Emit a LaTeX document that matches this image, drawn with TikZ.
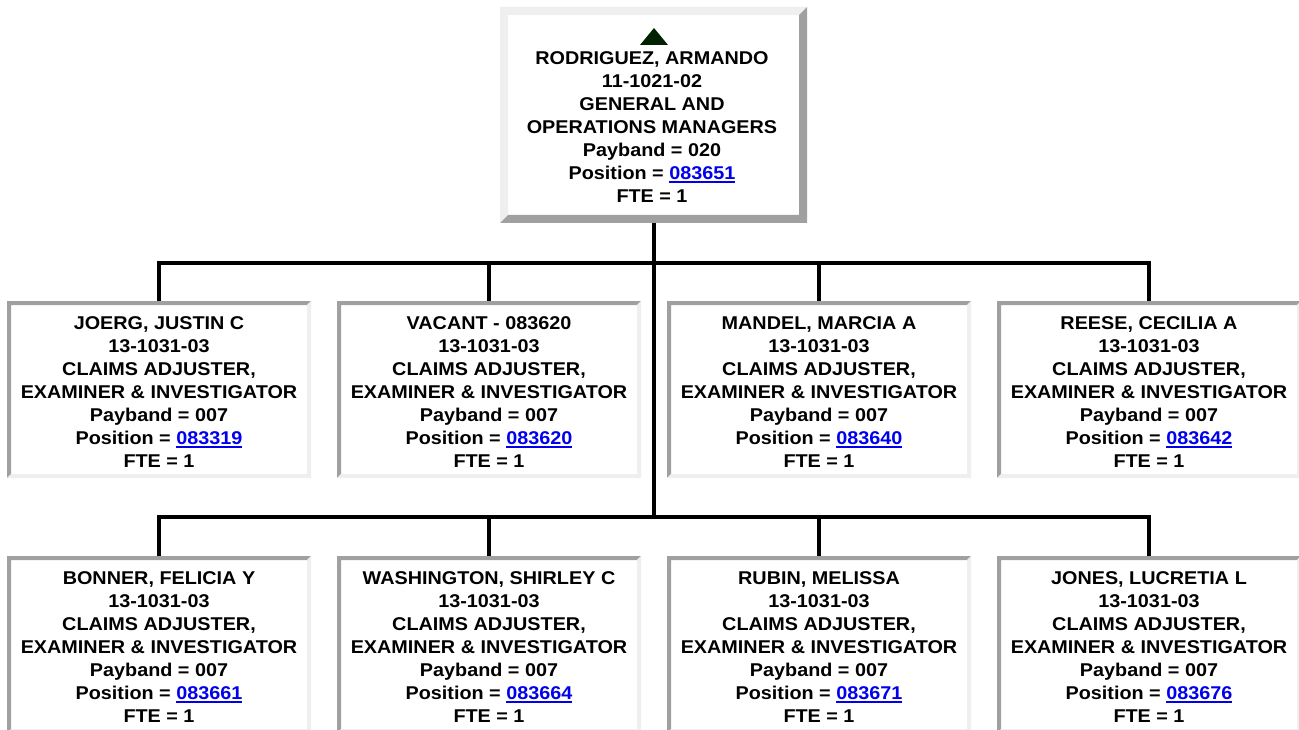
\documentclass[tikz,border=0pt]{standalone}
\usepackage{fontspec}
\setmainfont{Liberation Sans}[FakeStretch=1.07]
\usepackage{xcolor}
\definecolor{bdark}{RGB}{160,160,160}
\definecolor{blight}{RGB}{239,239,239}
\definecolor{linkblue}{RGB}{0,0,238}
\definecolor{tri}{RGB}{0,34,0}
\newcommand\lnk[1]{{\color{linkblue}\setbox0\hbox{#1}\rlap{\rule[-2.6pt]{\wd0}{1.6pt}}\box0}}
\tikzset{
  pp/.style={path picture bounding box},
  insetbox/.style={fill=white, inner sep=0pt, minimum width=304pt, minimum height=177pt,
    path picture={
      \fill[bdark] (path picture bounding box.north west) -- (path picture bounding box.north east)
        -- ([shift={(-4pt,-4pt)}]path picture bounding box.north east)
        -- ([shift={(4pt,-4pt)}]path picture bounding box.north west)
        -- ([shift={(4pt,4pt)}]path picture bounding box.south west)
        -- (path picture bounding box.south west) -- cycle;
      \fill[blight] (path picture bounding box.north east) -- (path picture bounding box.south east)
        -- (path picture bounding box.south west)
        -- ([shift={(4pt,4pt)}]path picture bounding box.south west)
        -- ([shift={(-4pt,4pt)}]path picture bounding box.south east)
        -- ([shift={(-4pt,-4pt)}]path picture bounding box.north east) -- cycle;
    }},
  outsetbox/.style={fill=white, inner sep=0pt, minimum width=307pt, minimum height=216pt,
    path picture={
      \fill[blight] (path picture bounding box.north west) -- (path picture bounding box.north east)
        -- ([shift={(-8pt,-8pt)}]path picture bounding box.north east)
        -- ([shift={(8pt,-8pt)}]path picture bounding box.north west)
        -- ([shift={(8pt,8pt)}]path picture bounding box.south west)
        -- (path picture bounding box.south west) -- cycle;
      \fill[bdark] (path picture bounding box.north east) -- (path picture bounding box.south east)
        -- (path picture bounding box.south west)
        -- ([shift={(8pt,8pt)}]path picture bounding box.south west)
        -- ([shift={(-8pt,8pt)}]path picture bounding box.south east)
        -- ([shift={(-8pt,-8pt)}]path picture bounding box.north east) -- cycle;
    }},
  txt/.style={inner sep=0pt, align=center, font=\bfseries\fontsize{18.5}{23}\selectfont},
  conn/.style={line width=4pt, black}
}
\begin{document}
\begin{tikzpicture}[x=1pt,y=-1pt]
\useasboundingbox (0,0) rectangle (1299,730);
\fill[white] (0,0) rectangle (1299,730);

% boxes
\node[outsetbox] (top) at (653.5,115) {};
\node[insetbox] (a1) at (159,389.5) {};
\node[insetbox] (a2) at (489,389.5) {};
\node[insetbox] (a3) at (819,389.5) {};
\node[insetbox] (a4) at (1149,389.5) {};
\node[insetbox] (b1) at (159,644.5) {};
\node[insetbox] (b2) at (489,644.5) {};
\node[insetbox] (b3) at (819,644.5) {};
\node[insetbox] (b4) at (1149,644.5) {};

% connectors
\coordinate (j1) at (654,263);
\coordinate (j2) at (654,517);
\draw[conn] (top.south -| j1) -- (j2);
\draw[conn] (a1.north) |- (j1);
\draw[conn] (a4.north) |- (j1);
\draw[conn] (a2.north) -- (a2.north |- j1);
\draw[conn] (a3.north) -- (a3.north |- j1);
\draw[conn] (b1.north) |- (j2);
\draw[conn] (b4.north) |- (j2);
\draw[conn] (b2.north) -- (b2.north |- j2);
\draw[conn] (b3.north) -- (b3.north |- j2);

% triangle
\fill[tri] (654,28) -- (668,45) -- (640,45) -- cycle;

% texts
\node[txt] (t0) at (652,127.5) {RODRIGUEZ, ARMANDO\\11-1021-02\\GENERAL AND\\OPERATIONS MANAGERS\\Payband = 020\\Position = \lnk{083651}\\FTE = 1};
\node[txt] (ta1) at (159,392.5) {JOERG, JUSTIN C\\13-1031-03\\CLAIMS ADJUSTER,\\EXAMINER \& INVESTIGATOR\\Payband = 007\\Position = \lnk{083319}\\FTE = 1};
\node[txt] (ta2) at (489,392.5) {VACANT - 083620\\13-1031-03\\CLAIMS ADJUSTER,\\EXAMINER \& INVESTIGATOR\\Payband = 007\\Position = \lnk{083620}\\FTE = 1};
\node[txt] (ta3) at (819,392.5) {MANDEL, MARCIA A\\13-1031-03\\CLAIMS ADJUSTER,\\EXAMINER \& INVESTIGATOR\\Payband = 007\\Position = \lnk{083640}\\FTE = 1};
\node[txt] (ta4) at (1149,392.5) {REESE, CECILIA A\\13-1031-03\\CLAIMS ADJUSTER,\\EXAMINER \& INVESTIGATOR\\Payband = 007\\Position = \lnk{083642}\\FTE = 1};
\node[txt] (tb1) at (159,647.5) {BONNER, FELICIA Y\\13-1031-03\\CLAIMS ADJUSTER,\\EXAMINER \& INVESTIGATOR\\Payband = 007\\Position = \lnk{083661}\\FTE = 1};
\node[txt] (tb2) at (489,647.5) {WASHINGTON, SHIRLEY C\\13-1031-03\\CLAIMS ADJUSTER,\\EXAMINER \& INVESTIGATOR\\Payband = 007\\Position = \lnk{083664}\\FTE = 1};
\node[txt] (tb3) at (819,647.5) {RUBIN, MELISSA\\13-1031-03\\CLAIMS ADJUSTER,\\EXAMINER \& INVESTIGATOR\\Payband = 007\\Position = \lnk{083671}\\FTE = 1};
\node[txt] (tb4) at (1149,647.5) {JONES, LUCRETIA L\\13-1031-03\\CLAIMS ADJUSTER,\\EXAMINER \& INVESTIGATOR\\Payband = 007\\Position = \lnk{083676}\\FTE = 1};
\end{tikzpicture}
\end{document}
